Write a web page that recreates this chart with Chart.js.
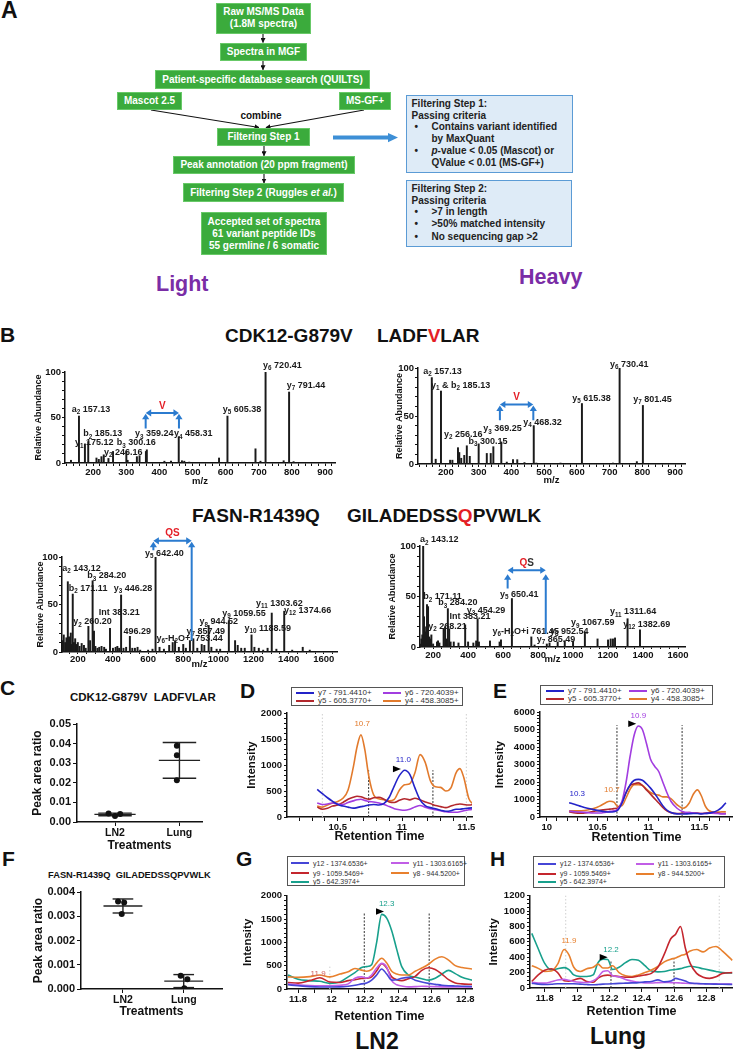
<!DOCTYPE html>
<html>
<head>
<meta charset="utf-8">
<title>Variant peptide validation</title>
<script src="https://cdn.jsdelivr.net/npm/chart.js@4.4.1/dist/chart.umd.min.js"></script>
<style>
  body { margin:0; width:733px; height:1050px; position:relative; overflow:hidden; background:#fff;
         font-family:"Liberation Sans", Arial, Helvetica, sans-serif; color:#111; }
  .t { position:absolute; white-space:nowrap; font-weight:bold; line-height:1; }
  .g { position:absolute; box-sizing:border-box; background:#3bab3c; border:1px solid #68c968;
       display:flex; align-items:center; justify-content:center; text-align:center;
       color:#fff; font:bold 10px/12px "Liberation Sans", Arial, sans-serif; white-space:nowrap; }
  .bb { position:absolute; box-sizing:border-box; background:#deebf7; border:1.5px solid #5b9bd5; }
  .ln { position:absolute; white-space:nowrap; font:bold 10px/12px "Liberation Sans", Arial, sans-serif; color:#222; }
  .lg { position:absolute; box-sizing:border-box; border:1px solid #555; background:#fff; }
  .lg div { position:absolute; line-height:1; color:#333; white-space:nowrap; }
  .lg i { position:absolute; height:2px; }
  canvas { position:absolute; }
</style>
</head>
<body>

<!-- A: workflow -->
<div class="t" style="left:1px;top:-1px;font-size:23px">A</div>
<svg style="position:absolute;left:0;top:0" width="733" height="300">
  <defs>
    <marker id="ah" markerWidth="5" markerHeight="5" refX="4.5" refY="2.5" orient="auto" markerUnits="userSpaceOnUse">
      <path d="M0,0 L5,2.5 L0,5 z" fill="#111"/>
    </marker>
  </defs>
  <g stroke="#111" stroke-width="1.1" marker-end="url(#ah)">
    <line x1="263" y1="33.5" x2="263" y2="42.5"/>
    <line x1="263" y1="61" x2="263" y2="69.8"/>
    <line x1="264" y1="146" x2="264" y2="155.8"/>
    <line x1="264" y1="174" x2="264" y2="183"/>
    <line x1="151" y1="110" x2="259" y2="127.5"/>
    <line x1="364" y1="110" x2="266" y2="127.5"/>
  </g>
  <polygon points="333,135.6 388,135.6 388,133 398,137.6 388,142.2 388,139.6 333,139.6" fill="#3d8fd6"/>
</svg>
<div class="g" style="left:216px;top:3px;width:95px;height:30.5px">Raw MS/MS Data<br>(1.8M spectra)</div>
<div class="g" style="left:220px;top:42.7px;width:87px;height:18.3px">Spectra in MGF</div>
<div class="g" style="left:155px;top:70px;width:215px;height:19.3px">Patient-specific database search (QUILTS)</div>
<div class="g" style="left:117px;top:91.7px;width:65px;height:18.3px">Mascot 2.5</div>
<div class="g" style="left:339px;top:91.7px;width:52px;height:18.3px">MS-GF+</div>
<div class="t" style="left:261px;top:111px;font-size:10px;transform:translateX(-50%)">combine</div>
<div class="g" style="left:217px;top:127.7px;width:93px;height:18.3px">Filtering Step 1</div>
<div class="g" style="left:173px;top:156px;width:182px;height:18px">Peak annotation (20 ppm fragment)</div>
<div class="g" style="left:183px;top:183.3px;width:161px;height:19px">Filtering Step 2 (Ruggles&nbsp;<i>et al.</i>)</div>
<div class="g" style="left:201px;top:212.3px;width:126px;height:43px">Accepted set of spectra<br>61 variant peptide IDs<br>55 germline / 6 somatic</div>

<div class="bb" style="left:406px;top:95px;width:167px;height:78.3px">
  <div class="ln" style="top:1.8px;left:4.5px">Filtering Step 1:</div>
  <div class="ln" style="top:13.8px;left:4.5px">Passing criteria</div>
  <div class="ln" style="top:25.2px;left:7.5px">•</div>
  <div class="ln" style="top:25.2px;left:24.5px">Contains variant identified</div>
  <div class="ln" style="top:37.2px;left:24.5px">by MaxQuant</div>
  <div class="ln" style="top:49.2px;left:7.5px">•</div>
  <div class="ln" style="top:49.2px;left:24.5px"><i>p</i>-value &lt; 0.05 (Mascot) or</div>
  <div class="ln" style="top:60.8px;left:24.5px">QValue &lt; 0.01 (MS-GF+)</div>
</div>
<div class="bb" style="left:406px;top:180px;width:166px;height:66.7px">
  <div class="ln" style="top:1.8px;left:4.5px">Filtering Step 2:</div>
  <div class="ln" style="top:13.8px;left:4.5px">Passing criteria</div>
  <div class="ln" style="top:25.2px;left:7.5px">•</div>
  <div class="ln" style="top:25.2px;left:24.5px">&gt;7 in length</div>
  <div class="ln" style="top:37.2px;left:7.5px">•</div>
  <div class="ln" style="top:37.2px;left:24.5px">&gt;50% matched intensity</div>
  <div class="ln" style="top:49.5px;left:7.5px">•</div>
  <div class="ln" style="top:49.5px;left:24.5px">No sequencing gap &gt;2</div>
</div>

<div class="t" style="left:156px;top:274.2px;font-size:21.5px;color:#7a2da6">Light</div>
<div class="t" style="left:519px;top:266.5px;font-size:21.5px;color:#7a2da6">Heavy</div>

<!-- B titles -->
<div class="t" style="left:0;top:324px;font-size:21px">B</div>
<div class="t" style="left:225px;top:325.5px;font-size:19px">CDK12-G879V</div>
<div class="t" style="left:377px;top:325.5px;font-size:19px">LADF<span style="color:#e41e26">V</span>LAR</div>
<div class="t" style="left:192px;top:505.5px;font-size:19px">FASN-R1439Q</div>
<div class="t" style="left:347px;top:505.5px;font-size:19px">GILADEDSS<span style="color:#e41e26">Q</span>PVWLK</div>

<!-- C-H labels -->
<div class="t" style="left:0;top:677px;font-size:21px">C</div>
<div class="t" style="left:70px;top:691.5px;font-size:11.5px">CDK12-G879V&nbsp;&nbsp;LADFVLAR</div>
<div class="t" style="left:240px;top:680px;font-size:21px">D</div>
<div class="t" style="left:493px;top:680px;font-size:21px">E</div>
<div class="t" style="left:2px;top:848px;font-size:21px">F</div>
<div class="t" style="left:48px;top:870.5px;font-size:9.3px">FASN-R1439Q&nbsp;&nbsp;GILADEDSSQPVWLK</div>
<div class="t" style="left:236px;top:848px;font-size:21px">G</div>
<div class="t" style="left:490px;top:848px;font-size:21px">H</div>
<div class="t" style="left:377px;top:1030px;font-size:23px;transform:translateX(-50%)">LN2</div>
<div class="t" style="left:618px;top:1025px;font-size:23px;transform:translateX(-50%)">Lung</div>

<script>
// ---------- B: MS/MS spectra (m/z, relative abundance) ----------
const cdkLightMz = [133, 157.13, 175.12, 185.13, 210, 217, 225, 232, 246.16, 260, 300.16, 304, 332, 340, 359.24, 362, 415, 435, 458.31, 468, 475, 490, 580, 605.38, 690, 705, 720.41, 775, 791.44, 805];
const cdkLightAb = [3, 51.6, 21, 23.6, 5.5, 4, 7, 9, 5, 12.7, 12.7, 3, 7, 8, 12.7, 14.5, 2, 2, 29, 2.5, 2, 1, 5.5, 51.6, 15.6, 2, 100, 2.5, 78, 1.5];
const cdkLightLabels = [
  [135, 58.5, 'a_{2} 157.13'], [170, 32, 'b_{2} 185.13'], [145, 22, 'y_{1} 175.12'], [271, 22, 'b_{3} 300.16'],
  [233, 11.6, 'y_{2} 246.16'], [326, 32, 'y_{3} 359.24'], [444, 32, 'y_{4} 458.31'], [591, 59, 'y_{5} 605.38'],
  [713, 107, 'y_{6} 720.41'], [784, 85, 'y_{7} 791.44']];

const cdkHeavyMz = [157.13, 169, 185.13, 213, 220, 237, 241, 247, 256.16, 264, 273, 300.15, 325, 337, 345, 369.25, 386, 405, 418, 440, 468.32, 476, 550, 615.38, 710, 730.41, 783, 801.45];
const cdkHeavyAb = [90, 5, 76, 4, 4, 17, 12, 6, 9, 19, 8, 21, 11, 11, 18, 23, 2, 4.5, 4.5, 1.5, 40, 1, 1, 63, 1, 100, 2.5, 61];
const cdkHeavyLabels = [
  [131, 96.5, 'a_{2} 157.13'], [155, 82, 'y_{1} & b_{2} 185.13'], [194, 30.5, 'y_{2} 256.16'], [314, 36.5, 'y_{3} 369.25'],
  [436, 43, 'y_{4} 468.32'], [269, 23.6, 'b_{3} 300.15'], [586, 68, 'y_{5} 615.38'], [701, 103.5, 'y_{6} 730.41'],
  [772, 67, 'y_{7} 801.45']];

const fasnLightMz = [115, 120, 128, 135, 143.12, 150, 155, 160, 165, 171.11, 178, 185, 192, 200, 210, 222, 235, 245, 260.20, 270, 284.20, 292, 300, 312, 322, 335, 350, 360, 383.21, 400, 415, 425, 435, 446.28, 460, 475, 496.29, 510, 525, 540, 555, 600, 625, 642.40, 665, 690, 720, 740, 753.44, 775, 800, 815, 838, 857.49, 880, 905, 920, 944.52, 960, 990, 1010, 1059.55, 1095, 1110, 1130, 1150, 1188.59, 1205, 1230, 1255, 1280, 1303.62, 1330, 1374.66, 1420, 1480, 1520];
const fasnLightAb = [12, 18, 10, 15, 74, 16, 12, 20, 8, 61, 10, 14, 8, 10, 6, 9, 7, 4, 27, 12, 75, 22, 6, 4, 5, 6, 5, 3, 25, 4, 5, 6, 4, 60, 4, 5, 16.5, 4, 4, 5, 2, 2, 3, 100, 5, 3, 7, 10, 12, 5, 8, 4, 12, 14, 4, 8, 7, 28, 5, 3, 3, 33, 12, 7, 4, 4, 18, 5, 4, 2, 4, 41, 3, 43, 2, 5, 2];
const fasnLightLabels = [
  [111, 88, 'a_{2} 143.12'], [253, 80, 'b_{3} 284.20'], [149, 67, 'b_{2} 171.11'], [404, 67, 'y_{3} 446.28'],
  [319, 42, 'Int 383.21'], [174, 31.6, 'y_{2} 260.20'], [460, 21.8, '496.29'], [583, 103.5, 'y_{5} 642.40'],
  [648, 14, 'y_{6}-H_{2}O+i 753.44'], [818, 21.8, 'y_{7} 857.49'], [893, 31.6, 'y_{8} 944.52'],
  [1022, 41, 'y_{9} 1059.55'], [1148, 25, 'y_{10} 1188.59'], [1214, 51, 'y_{11} 1303.62'], [1374, 44, 'y_{12} 1374.66']];

const fasnHeavyMz = [128, 133, 138, 143.12, 148, 155, 160, 165, 171.11, 178, 185, 190, 200, 222, 228, 236, 260, 268.21, 275, 284.20, 292, 300, 318, 345, 383.21, 400, 430, 446, 454.29, 462, 525, 580, 588, 650.41, 761.45, 780, 850, 865.49, 912, 952.54, 1000, 1067.59, 1140, 1200, 1215, 1228, 1240, 1311.64, 1382.69];
const fasnHeavyAb = [3, 8, 12, 100, 30, 15, 20, 42, 40, 10, 8, 12, 3, 5, 6, 4, 18, 20, 8, 38, 18, 5, 5, 4, 22, 5, 4, 6, 28, 5, 6, 5, 7, 48, 10, 2, 3, 4, 5, 6, 6, 15, 8, 7, 8, 8, 9, 28, 17];
const fasnHeavyLabels = [
  [125, 106, 'a_{2} 143.12'], [144, 49.5, 'b_{2} 171.11'], [230, 43.6, 'b_{3} 284.20'], [392, 36.3, 'y_{3} 454.29'],
  [293, 29.7, 'Int 383.21'], [172, 20.5, 'y_{2} 268.21'], [582, 51.8, 'y_{5} 650.41'], [540, 15.5, 'y_{6}-H_{2}O+i 761.45'],
  [868, 15.5, 'y_{8} 952.54'], [792, 7.3, 'y_{7} 865.49'], [988, 23.8, 'y_{9} 1067.59'], [1211, 34.7, 'y_{11} 1311.64'],
  [1287, 22, 'y_{12} 1382.69']];

// ---------- C / F: peak area ratios ----------
const treatments = ['LN2', 'Lung'];
const cdkRatioLn2 = [0.0044, 0.0031, 0.0041];
const cdkRatioLung = [0.0389, 0.0341, 0.0213];
const fasnRatioLn2 = [0.00361, 0.00357, 0.00309];
const fasnRatioLung = [0.00055, 0.00040, 0.00003];

// ---------- D / E: CDK12 chromatograms ----------
const dNames = ['y7 - 791.4410+', 'y6 - 720.4039+', 'y5 - 605.3770+', 'y4 - 458.3085+'];
const dRt = [10.34, 10.38, 10.42, 10.46, 10.5, 10.54, 10.58, 10.62, 10.65, 10.68, 10.71, 10.74, 10.78, 10.82, 10.86, 10.9, 10.94, 10.98, 11.02, 11.06, 11.1, 11.14, 11.18, 11.22, 11.26, 11.3, 11.34, 11.38, 11.42, 11.45, 11.48, 11.52, 11.56];
const dY7 = [530, 450, 370, 300, 240, 210, 190, 170, 180, 200, 210, 230, 240, 230, 260, 380, 600, 800, 900, 820, 560, 330, 220, 180, 160, 130, 110, 120, 150, 150, 160, 170, 180];
const dY6 = [270, 240, 250, 270, 250, 240, 280, 310, 330, 340, 320, 300, 290, 270, 240, 200, 160, 140, 130, 150, 190, 220, 190, 160, 140, 120, 100, 90, 90, 100, 120, 140, 150];
const dY5 = [190, 150, 170, 210, 230, 280, 340, 380, 400, 390, 360, 340, 370, 380, 340, 290, 280, 320, 350, 330, 360, 330, 290, 260, 220, 200, 180, 210, 240, 250, 240, 230, 240];
const dY4 = [210, 190, 230, 270, 300, 360, 520, 950, 1350, 1580, 1300, 800, 420, 350, 330, 310, 340, 520, 620, 640, 850, 1200, 1050, 700, 580, 570, 500, 560, 850, 930, 760, 350, 240];

const eRt = [10.22, 10.28, 10.34, 10.4, 10.46, 10.52, 10.58, 10.62, 10.66, 10.7, 10.74, 10.78, 10.82, 10.86, 10.9, 10.94, 10.98, 11.02, 11.06, 11.1, 11.14, 11.18, 11.22, 11.28, 11.34, 11.4, 11.44, 11.48, 11.52, 11.56, 11.62, 11.68, 11.72, 11.76];
const eY7 = [820, 720, 600, 500, 420, 350, 300, 290, 300, 400, 800, 1400, 1850, 2100, 2150, 2100, 1900, 1650, 1350, 1000, 650, 400, 260, 180, 170, 190, 200, 200, 180, 200, 250, 380, 550, 820];
const eY6 = [330, 300, 280, 250, 230, 230, 280, 320, 350, 450, 900, 2000, 3500, 4700, 5200, 5000, 4200, 3300, 2900, 2600, 2000, 1400, 900, 500, 300, 250, 230, 210, 200, 200, 220, 200, 180, 180];
const eY5 = [300, 230, 220, 260, 320, 380, 420, 450, 480, 520, 850, 1400, 1800, 1900, 1950, 1800, 1550, 1300, 1050, 800, 550, 350, 250, 200, 220, 250, 230, 220, 200, 230, 250, 220, 200, 200];
const eY4 = [350, 350, 360, 400, 480, 620, 820, 900, 850, 600, 650, 1100, 1600, 1850, 1850, 1800, 1600, 1400, 1300, 1250, 1150, 1150, 1050, 700, 500, 800, 1300, 1550, 1200, 600, 300, 280, 300, 300];

// ---------- G / H: FASN chromatograms ----------
const gNames = ['y12 - 1374.6536+', 'y11 - 1303.6165+', 'y9 - 1059.5469+', 'y8 - 944.5200+', 'y5 - 642.3974+'];
const gRt = [11.74, 11.80, 11.87, 11.93, 11.99, 12.05, 12.10, 12.14, 12.18, 12.21, 12.24, 12.27, 12.30, 12.33, 12.36, 12.39, 12.42, 12.46, 12.50, 12.54, 12.58, 12.62, 12.66, 12.70, 12.74, 12.78, 12.84];
const gY12 = [90, 70, 50, 42, 42, 45, 60, 80, 110, 130, 190, 300, 430, 320, 190, 200, 230, 250, 190, 150, 120, 100, 80, 70, 65, 60, 55];
const gY11 = [110, 90, 75, 70, 70, 80, 110, 230, 260, 235, 300, 450, 550, 470, 180, 90, 65, 45, 50, 60, 55, 50, 45, 45, 45, 45, 45];
const gY9 = [140, 125, 180, 240, 150, 140, 180, 200, 225, 230, 260, 390, 540, 450, 260, 200, 180, 220, 270, 400, 455, 420, 320, 200, 130, 110, 100];
const gY8 = [260, 250, 265, 300, 260, 320, 370, 440, 405, 380, 420, 560, 660, 560, 380, 320, 300, 300, 380, 450, 530, 640, 690, 620, 500, 460, 430];
const gY5 = [300, 210, 180, 165, 120, 150, 260, 350, 460, 480, 520, 1000, 1600, 1520, 1250, 850, 480, 300, 255, 220, 190, 230, 320, 400, 330, 250, 190];

const hRt = [11.72, 11.76, 11.80, 11.84, 11.88, 11.92, 11.95, 11.98, 12.02, 12.06, 12.10, 12.13, 12.16, 12.19, 12.22, 12.26, 12.30, 12.34, 12.38, 12.42, 12.46, 12.50, 12.54, 12.58, 12.61, 12.64, 12.67, 12.70, 12.74, 12.78, 12.82, 12.86, 12.90, 12.96];
const hY12 = [62, 50, 45, 48, 55, 55, 55, 55, 50, 45, 42, 45, 50, 52, 55, 60, 63, 66, 70, 80, 84, 105, 80, 90, 125, 110, 90, 65, 58, 55, 52, 50, 48, 46];
const hY11 = [72, 65, 63, 80, 105, 112, 100, 85, 75, 72, 95, 140, 215, 225, 160, 145, 110, 90, 75, 66, 65, 70, 72, 70, 68, 65, 62, 60, 58, 56, 55, 54, 52, 50];
const hY9 = [85, 170, 230, 250, 200, 95, 90, 105, 125, 85, 75, 130, 160, 168, 160, 148, 140, 140, 155, 170, 190, 270, 440, 640, 700, 800, 520, 320, 190, 140, 125, 145, 190, 200];
const hY8 = [290, 255, 215, 220, 310, 500, 430, 270, 215, 250, 270, 310, 260, 260, 290, 200, 160, 150, 170, 200, 235, 280, 340, 375, 390, 420, 440, 480, 500, 470, 520, 540, 480, 360];
const hY5 = [710, 510, 320, 235, 250, 265, 240, 170, 150, 150, 170, 330, 375, 370, 240, 270, 330, 370, 360, 290, 220, 210, 215, 235, 240, 252, 270, 282, 270, 250, 232, 215, 200, 195];

// ---------- colours ----------
const RED = '#e41e26', BLUE_ARROW = '#2b7bcf';
const dColors = ['#2323c8', '#a23de0', '#b3282d', '#e27a2c'];
const gColors = ['#4646d6', '#c15ee6', '#c4262e', '#e8802e', '#18a08c'];

const FONT = '"Liberation Sans", Arial, Helvetica, sans-serif';

function isMajor(v, m) {
  const r = v / m;
  return Math.abs(r - Math.round(r)) < 1e-6;
}

// canvas rect + padding so that the plot area lands where the figure has it
function frame(x, y, w, area, yTitleX, yTitleSize, xTitleY, xTitleSize) {
  const h = Math.round(xTitleY + 0.6 * xTitleSize - y);
  const pl = yTitleX - x - 0.6 * yTitleSize;
  return {
    rect: {x, y, w, h},
    padding: {left: pl, top: area.T - y, right: x + w - area.R, bottom: 0},
    yW: area.L - x - pl,
    xH: y + h - area.B
  };
}

function addCanvas(r) {
  const c = document.createElement('canvas');
  c.width = r.w; c.height = r.h;
  c.style.left = r.x + 'px'; c.style.top = r.y + 'px';
  document.body.appendChild(c);
  return c;
}

function linAxis(o, fitKey, fitVal) {
  return {
    type: 'linear', min: o.min, max: o.max, offset: false,
    border: {display: true, color: '#111', width: o.bw || 1.5},
    grid: {display: true, offset: false, drawOnChartArea: false, drawTicks: true, tickLength: o.tl, color: '#111', lineWidth: 1},
    ticks: {
      stepSize: o.step, autoSkip: false, maxRotation: 0, minRotation: 0, includeBounds: false,
      padding: o.tp, color: '#111', font: {size: o.fs, weight: 'bold', family: FONT},
      callback: v => (o.major && !isMajor(v, o.major)) ? '' : o.fmt(v)
    },
    title: {display: true, text: o.title, padding: 0, color: '#111', font: {size: o.ts, weight: 'bold', family: FONT}},
    afterBuildTicks: o.ticksAt ? (s => { s.ticks = o.ticksAt.map(v => ({value: v})); }) : undefined,
    afterFit: s => { s[fitKey] = fitVal; }
  };
}

function baseOpts(g) {
  return {
    responsive: false, animation: false, devicePixelRatio: 1, events: [],
    layout: {padding: g.padding},
    plugins: {legend: {display: false}, tooltip: {enabled: false}}
  };
}

// text with _{sub} parts
function rich(ctx, x, y, str, size) {
  const parts = str.split(/(_\{[^}]*\})/).filter(Boolean);
  let cx = x;
  for (const p of parts) {
    const sub = p.startsWith('_{');
    const t = sub ? p.slice(2, -1) : p;
    ctx.font = `bold ${sub ? size * 0.7 : size}px ${FONT}`;
    ctx.fillText(t, cx, sub ? y + size * 0.32 : y);
    cx += ctx.measureText(t).width;
  }
}

function head(ctx, x, y, dir) {
  const s = 3.6, l = 5.5;
  ctx.beginPath();
  if (dir === 'up') { ctx.moveTo(x, y); ctx.lineTo(x - s, y + l); ctx.lineTo(x + s, y + l); }
  if (dir === 'left') { ctx.moveTo(x, y); ctx.lineTo(x + l, y - s); ctx.lineTo(x + l, y + s); }
  if (dir === 'right') { ctx.moveTo(x, y); ctx.lineTo(x - l, y - s); ctx.lineTo(x - l, y + s); }
  ctx.closePath();
  ctx.fill();
}

function specPlugin(labels, br) {
  return {
    id: 'spec',
    afterDatasetsDraw(chart) {
      const {ctx, scales: {x, y}} = chart;
      ctx.save();
      ctx.fillStyle = '#1a1a1a';
      ctx.textAlign = 'left';
      ctx.textBaseline = 'middle';
      for (const [mz, ab, txt] of labels) rich(ctx, x.getPixelForValue(mz), y.getPixelForValue(ab), txt, 9);
      // residue bracket
      const xl = x.getPixelForValue(br.l), xr = x.getPixelForValue(br.r);
      const yt = y.getPixelForValue(br.top), yb = y.getPixelForValue(br.bar);
      ctx.strokeStyle = ctx.fillStyle = BLUE_ARROW;
      ctx.lineWidth = 2;
      ctx.beginPath();
      ctx.moveTo(xl, y.getPixelForValue(br.lowL)); ctx.lineTo(xl, yt + 4);
      ctx.moveTo(xr, y.getPixelForValue(br.lowR)); ctx.lineTo(xr, yt + 4);
      ctx.moveTo(xl + 4, yb); ctx.lineTo(xr - 4, yb);
      ctx.stroke();
      head(ctx, xl, yt, 'up'); head(ctx, xr, yt, 'up');
      head(ctx, xl, yb, 'left'); head(ctx, xr, yb, 'right');
      ctx.font = `bold 10px ${FONT}`;
      const total = br.res.reduce((s, r) => s + ctx.measureText(r[0]).width, 0);
      let cx = (xl + xr) / 2 - total / 2;
      const ry = y.getPixelForValue(br.resAb);
      for (const [t, c] of br.res) {
        ctx.fillStyle = c;
        ctx.fillText(t, cx, ry);
        cx += ctx.measureText(t).width;
      }
      ctx.restore();
    }
  };
}

function spectrum(g, mz, ab, xr, xStep, xMajor, tick, labels, br) {
  new Chart(addCanvas(g.rect), {
    type: 'bar',
    data: {datasets: [{data: mz.map((m, i) => ({x: m, y: ab[i]})), backgroundColor: '#1a1a1a', barThickness: 1.3, grouped: false}]},
    options: Object.assign(baseOpts(g), {
      scales: {
        x: linAxis({min: xr[0], max: xr[1], step: xStep, major: xMajor, fmt: v => String(v), fs: 9.5,
                    title: 'm/z', ts: 9.5, tl: tick.tl, tp: tick.tp}, 'height', g.xH),
        y: linAxis({min: 0, max: 100, step: 10, major: 50, fmt: v => String(v), fs: 9.5,
                    title: 'Relative Abundance', ts: 9, tl: 3, tp: 1}, 'width', g.yW)
      }
    }),
    plugins: [specPlugin(labels, br)]
  });
}

function chromPlugin(m) {
  return {
    id: 'chrom',
    beforeDatasetsDraw(chart) {
      const {ctx, chartArea: ca, scales: {x, y}} = chart;
      ctx.save();
      ctx.lineWidth = 1;
      for (const [t, top, faint] of m.vlines) {
        const px = x.getPixelForValue(t);
        ctx.strokeStyle = faint ? '#cfcfcf' : '#333';
        ctx.setLineDash(faint ? [1.5, 2] : [2, 1.5]);
        ctx.beginPath();
        ctx.moveTo(px, ca.bottom);
        ctx.lineTo(px, top == null ? ca.top : y.getPixelForValue(top));
        ctx.stroke();
      }
      ctx.restore();
    },
    afterDatasetsDraw(chart) {
      const {ctx, scales: {x, y}} = chart;
      ctx.save();
      ctx.font = `8px ${FONT}`;
      ctx.textAlign = 'center';
      ctx.textBaseline = 'middle';
      for (const [t, v, txt, c] of m.texts) {
        ctx.fillStyle = c;
        ctx.fillText(txt, x.getPixelForValue(t), y.getPixelForValue(v));
      }
      const px = x.getPixelForValue(m.tri[0]), py = y.getPixelForValue(m.tri[1]);
      ctx.fillStyle = '#000';
      ctx.beginPath();
      ctx.moveTo(px + 4, py); ctx.lineTo(px - 4, py - 3.2); ctx.lineTo(px - 4, py + 3.2);
      ctx.closePath();
      ctx.fill();
      ctx.restore();
    }
  };
}

function chrom(g, rt, series, colors, xo, yo, marks) {
  new Chart(addCanvas(g.rect), {
    type: 'line',
    data: {
      datasets: series.map((s, i) => ({
        data: rt.map((t, j) => ({x: t, y: s[j]})),
        borderColor: colors[i], borderWidth: 1.6, pointRadius: 0,
        cubicInterpolationMode: 'monotone', fill: false
      }))
    },
    options: Object.assign(baseOpts(g), {
      scales: {
        x: linAxis({min: xo.min, max: xo.max, step: xo.step, major: xo.major, fmt: v => String(Math.round(v * 10) / 10),
                    fs: 9.5, title: 'Retention Time', ts: 12.5, tl: 4, tp: 1}, 'height', g.xH),
        y: linAxis({min: 0, max: yo.max, step: yo.step, major: yo.major, fmt: v => String(v),
                    fs: 9.5, title: 'Intensity', ts: 11.5, tl: 3, tp: 2}, 'width', g.yW)
      }
    }),
    plugins: [chromPlugin(marks)]
  });
}

function errPlugin(groups, mw, cw) {
  return {
    id: 'err',
    beforeDatasetsDraw(chart) {
      const {ctx, scales: {x, y}} = chart;
      const seg = (a, b, c, d) => { ctx.beginPath(); ctx.moveTo(a, b); ctx.lineTo(c, d); ctx.stroke(); };
      ctx.save();
      ctx.strokeStyle = '#222';
      ctx.lineWidth = 1.4;
      groups.forEach((vals, i) => {
        const n = vals.length, m = vals.reduce((s, v) => s + v, 0) / n;
        const sd = Math.sqrt(vals.reduce((s, v) => s + (v - m) ** 2, 0) / (n - 1));
        const c = i + 1, X = v => x.getPixelForValue(v), Y = v => y.getPixelForValue(v);
        seg(X(c - mw), Y(m), X(c + mw), Y(m));
        seg(X(c), Y(m - sd), X(c), Y(m + sd));
        seg(X(c - cw), Y(m - sd), X(c + cw), Y(m - sd));
        seg(X(c - cw), Y(m + sd), X(c + cw), Y(m + sd));
      });
      ctx.restore();
    }
  };
}

function dots(g, groups, jitter, xr, yo, mw, cw) {
  const pts = [];
  groups.forEach((vals, i) => vals.forEach((v, j) => pts.push({x: i + 1 + jitter[i][j], y: v})));
  new Chart(addCanvas(g.rect), {
    type: 'scatter',
    data: {datasets: [{data: pts, pointRadius: 3, backgroundColor: '#111', borderWidth: 0}]},
    options: Object.assign(baseOpts(g), {
      scales: {
        x: linAxis({min: xr[0], max: xr[1], ticksAt: [1, 2], fmt: v => treatments[Math.round(v) - 1],
                    fs: 10.5, title: 'Treatments', ts: 12, tl: 4, tp: 1}, 'height', g.xH),
        y: linAxis({min: 0, max: yo.max, step: yo.step, fmt: v => v.toFixed(yo.dec),
                    fs: 11, title: 'Peak area ratio', ts: 12, tl: 4, tp: 2}, 'width', g.yW)
      }
    }),
    plugins: [errPlugin(groups, mw, cw)]
  });
}

function legend(x, y, w, h, cols, rows, fs, names, colors) {
  const box = document.createElement('div');
  box.className = 'lg';
  box.style.cssText = `left:${x}px;top:${y}px;width:${w}px;height:${h}px`;
  names.forEach((n, i) => {
    const cx = cols[i % 2], cy = rows[Math.floor(i / 2)];
    const sw = document.createElement('i');
    sw.style.cssText = `left:${cx}px;top:${cy - 1}px;width:18px;background:${colors[i]}`;
    const tx = document.createElement('div');
    tx.textContent = n;
    tx.style.cssText = `left:${cx + 22}px;top:${cy - fs / 2}px;font-size:${fs}px;font-family:${FONT}`;
    box.append(sw, tx);
  });
  document.body.appendChild(box);
}

// ---------- B ----------
spectrum(frame(0, 345, 360, {L: 65, T: 372, R: 335, B: 463}, 39, 9, 481.7, 9.5),
  cdkLightMz, cdkLightAb, [115, 930], 20, 100, {tl: 3, tp: 1}, cdkLightLabels,
  {l: 358.5, r: 459, lowL: 38, lowR: 38, top: 54, bar: 55, res: [['V', RED]], resAb: 62.5});
spectrum(frame(370, 345, 363, {L: 418, T: 368, R: 685, B: 464}, 400, 9, 480, 9.5),
  cdkHeavyMz, cdkHeavyAb, [115, 930], 20, 100, {tl: 3, tp: 0}, cdkHeavyLabels,
  {l: 365, r: 467, lowL: 45.5, lowR: 45.5, top: 61, bar: 62, res: [['V', RED]], resAb: 70});
spectrum(frame(0, 522, 360, {L: 62, T: 557, R: 337, B: 652}, 41, 9, 664, 9.5),
  fasnLightMz, fasnLightAb, [110, 1675], 50, 200, {tl: 2, tp: 0}, fasnLightLabels,
  {l: 630, r: 848, lowL: 107, lowR: 12, top: 116, bar: 117, res: [['Q', RED], ['S', RED]], resAb: 124.5});
spectrum(frame(370, 520, 363, {L: 420, T: 546, R: 685, B: 647}, 393, 9, 659, 9.5),
  fasnHeavyMz, fasnHeavyAb, [125, 1640], 50, 200, {tl: 2, tp: 1}, fasnHeavyLabels,
  {l: 626, r: 844, lowL: 57.8, lowR: 13, top: 72, bar: 76, res: [['Q', RED], ['S', '#333']], resAb: 82.5});

// ---------- C / F ----------
dots(frame(0, 712, 215, {L: 77, T: 724, R: 202, B: 822}, 38, 12, 846, 12),
  [cdkRatioLn2, cdkRatioLung], [[-0.1, 0, 0.08], [-0.04, -0.04, -0.04]], [0.41, 2.35],
  {max: 0.05, step: 0.01, dec: 2}, 0.32, 0.26);
dots(frame(0, 880, 230, {L: 81, T: 892, R: 222, B: 989}, 39, 12, 1012, 12),
  [fasnRatioLn2, fasnRatioLung], [[-0.08, 0.02, -0.02], [-0.05, 0.06, 0.01]], [0.31, 2.63],
  {max: 0.004, step: 0.001, dec: 3}, 0.32, 0.17);

// ---------- D / E ----------
legend(291, 687, 172, 19, [4, 91], [4.5, 12.5], 8, dNames, dColors);
chrom(frame(240, 705, 242, {L: 287, T: 713, R: 472, B: 817}, 252, 11.5, 836.5, 12.5),
  dRt, [dY7, dY6, dY5, dY4], dColors,
  {min: 10.105, max: 11.544, step: 0.1, major: 0.5}, {max: 2000, step: 100, major: 500},
  {vlines: [[10.38, null, true], [11.5, null, true], [10.74, 900], [11.24, 900]],
   texts: [[10.69, 1800, '10.7', dColors[3]], [11.01, 1100, '11.0', dColors[0]]],
   tri: [10.96, 923]});

legend(540, 685, 173, 20, [5, 88], [5, 13], 8, dNames, dColors);
chrom(frame(485, 703, 248, {L: 540, T: 712, R: 733, B: 817}, 500, 11.5, 837.5, 12.5),
  eRt, [eY7, eY6, eY5, eY4], dColors,
  {min: 9.934, max: 11.83, step: 0.1, major: 0.5}, {max: 6000, step: 200, major: 1000},
  {vlines: [[10.69, 5250], [11.33, 5250]],
   texts: [[10.30, 1350, '10.3', dColors[0]], [10.64, 1550, '10.7', dColors[3]], [10.90, 5800, '10.9', dColors[1]]],
   tri: [10.84, 5330]});

// ---------- G / H ----------
legend(287, 856, 178, 30, [3, 103], [6, 16, 24.5], 7, gNames, gColors);
chrom(frame(235, 888, 247, {L: 287, T: 893, R: 472, B: 989}, 248, 11.5, 1016, 12.5),
  gRt, [gY12, gY11, gY9, gY8, gY5], gColors,
  {min: 11.734, max: 12.84, step: 0.1, major: 0.2}, {max: 2000, step: 100, major: 500},
  {vlines: [[11.99, 480, true], [12.196, 1650], [12.584, 1650]],
   texts: [[12.33, 1830, '12.3', gColors[4]], [11.92, 330, '11.9', '#d06060']],
   tri: [12.29, 1660]});

legend(533, 856, 192, 32, [4, 102], [6.5, 16.5, 24.5], 7, gNames, gColors);
chrom(frame(485, 888, 248, {L: 530, T: 893, R: 733, B: 988}, 494, 11.5, 1011, 12.5),
  hRt, [hY12, hY11, hY9, hY8, hY5], gColors,
  {min: 11.709, max: 12.965, step: 0.1, major: 0.2}, {max: 1200, step: 50, major: 200},
  {vlines: [[11.93, null, true], [12.88, null, true], [12.21, 360], [12.60, 370]],
   texts: [[11.95, 620, '11.9', gColors[3]], [12.21, 495, '12.2', gColors[4]]],
   tri: [12.165, 400]});
</script>
</body>
</html>
